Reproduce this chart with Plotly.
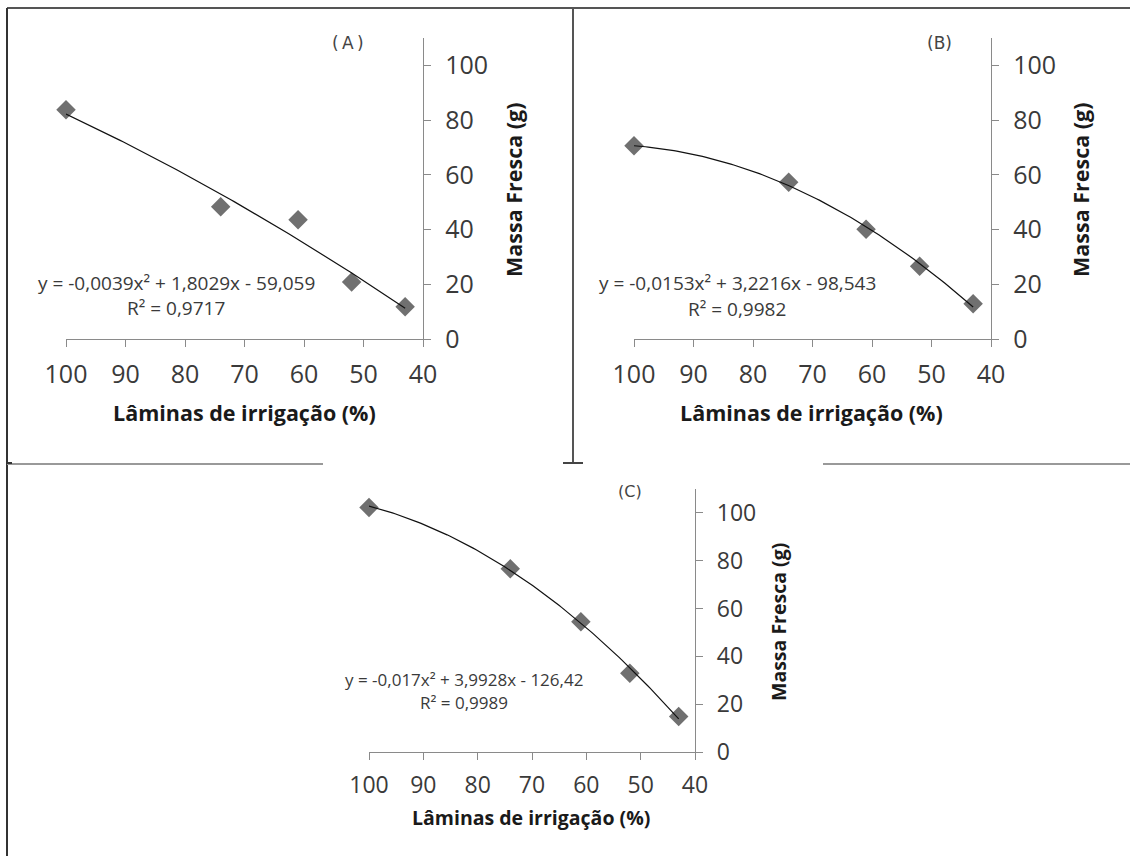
import numpy as np
import plotly.graph_objects as go

W, H = 1132, 856

# ---------------- data ----------------
laminas = [100, 74, 61, 52, 43]
massa_a = [83.8, 48.3, 43.6, 20.8, 11.8]
massa_b = [70.6, 57.3, 40.1, 26.6, 12.9]
massa_c = [102.3, 76.6, 54.5, 32.9, 14.9]

coef_a = [-0.0039, 1.8029, -59.059]
coef_b = [-0.0153, 3.2216, -98.543]
coef_c = [-0.017, 3.9928, -126.42]

eq_a = ["y = -0,0039x² + 1,8029x - 59,059", "R² = 0,9717"]
eq_b = ["y = -0,0153x² + 3,2216x - 98,543", "R² = 0,9982"]
eq_c = ["y = -0,017x² + 3,9928x - 126,42", "R² = 0,9989"]

panel_labels = ["(\u2009A\u2009)", "(B)", "(C)"]
x_ticks = [100, 90, 80, 70, 60, 50, 40]
y_ticks = [0, 20, 40, 60, 80, 100]
x_title = "Lâminas de irrigação (%)"
y_title = "Massa Fresca (g)"


def fx(px):
    return px / W


def fy(py):
    return 1 - py / H


FONT = "Open Sans"
fig = go.Figure()

panels = [
    dict(sfx="", y=massa_a, coef=coef_a, eq=eq_a, xd=(66, 423), yd=(339, 38),
         tick=25, ttl=21.5, eqf=19, eqxy=(176, 283, 308), lab=(348, 43), labf=17,
         xt=(244, 412), yt=(513, 190), xst=6, yst=9),
    dict(sfx="2", y=massa_b, coef=coef_b, eq=eq_b, xd=(634, 991), yd=(339, 38),
         tick=25, ttl=21.5, eqf=19, eqxy=(737, 283, 309), lab=(939, 43), labf=17,
         xt=(811, 412), yt=(1080, 190), xst=6, yst=9),
    dict(sfx="3", y=massa_c, coef=coef_c, eq=eq_c, xd=(369, 695), yd=(752, 489),
         tick=23, ttl=19.5, eqf=17, eqxy=(464, 679, 702), lab=(630, 491), labf=16,
         xt=(531, 817), yt=(778, 622), xst=5, yst=9),
]

annotations = []
for i, p in enumerate(panels):
    xa = "x" + p["sfx"]
    ya = "y" + p["sfx"]
    xs = np.linspace(min(laminas), max(laminas), 120)
    ys = np.polyval(p["coef"], xs)
    fig.add_trace(go.Scatter(x=laminas, y=p["y"], mode="markers",
                             marker=dict(symbol="diamond", size=15, color="#707070"),
                             xaxis=xa, yaxis=ya, showlegend=False, cliponaxis=False))
    fig.add_trace(go.Scatter(x=xs, y=ys, mode="lines",
                             line=dict(color="#111111", width=1.2),
                             xaxis=xa, yaxis=ya, showlegend=False))

    axis_common = dict(showline=True, linecolor="#8a8a8a", linewidth=1.3,
                       ticks="outside", ticklen=7, tickcolor="#8a8a8a", tickwidth=1.3,
                       showgrid=False, zeroline=False,
                       tickfont=dict(family=FONT, size=p["tick"], color="#3a3a3a"))
    fig.update_layout({
        "xaxis" + p["sfx"]: dict(domain=[fx(p["xd"][0]), fx(p["xd"][1])],
                                 range=[100, 40], tickvals=x_ticks,
                                 anchor=ya, ticklabelstandoff=p["xst"], **axis_common),
        "yaxis" + p["sfx"]: dict(domain=[fy(p["yd"][0]), fy(p["yd"][1])],
                                 range=[0, 110], tickvals=y_ticks, side="right",
                                 anchor=xa, ticklabelstandoff=p["yst"], **axis_common),
    })

    ex, ey1, ey2 = p["eqxy"]
    common = dict(xref="paper", yref="paper", showarrow=False,
                  xanchor="center", yanchor="middle")
    annotations += [
        dict(text=p["eq"][0], x=fx(ex), y=fy(ey1),
             font=dict(family=FONT, size=p["eqf"], color="#3a3a3a"), **common),
        dict(text=p["eq"][1], x=fx(ex), y=fy(ey2),
             font=dict(family=FONT, size=p["eqf"], color="#3a3a3a"), **common),
        dict(text=panel_labels[i], x=fx(p["lab"][0]), y=fy(p["lab"][1]),
             font=dict(family="DejaVu Sans", size=p["labf"], color="#444444"), **common),
        dict(text="<b>" + x_title + "</b>", x=fx(p["xt"][0]), y=fy(p["xt"][1]),
             font=dict(family=FONT, size=p["ttl"], color="#1a1a1a"), **common),
        dict(text="<b>" + y_title + "</b>", x=fx(p["yt"][0]), y=fy(p["yt"][1]),
             textangle=-90,
             font=dict(family=FONT, size=p["ttl"], color="#1a1a1a"), **common),
    ]


def seg(x0, y0, x1, y1, color, width):
    return dict(type="line", xref="paper", yref="paper",
                x0=fx(x0), y0=fy(y0), x1=fx(x1), y1=fy(y1),
                line=dict(color=color, width=width))


shapes = [
    seg(7, 8, 1130, 8, "#555555", 2),
    seg(7, 8, 7, 856, "#333333", 2),
    seg(573, 8, 573, 463, "#555555", 2),
    seg(563, 463, 583, 463, "#444444", 2),
    seg(7, 464, 323, 464, "#999999", 2),
    seg(823, 464, 1130, 464, "#999999", 2),
    seg(7, 463, 12, 463, "#333333", 2),
]

fig.update_layout(width=W, height=H,
                  margin=dict(l=0, r=0, t=0, b=0, autoexpand=False),
                  paper_bgcolor="white", plot_bgcolor="white",
                  annotations=annotations, shapes=shapes)

fig.write_html("out.html")
